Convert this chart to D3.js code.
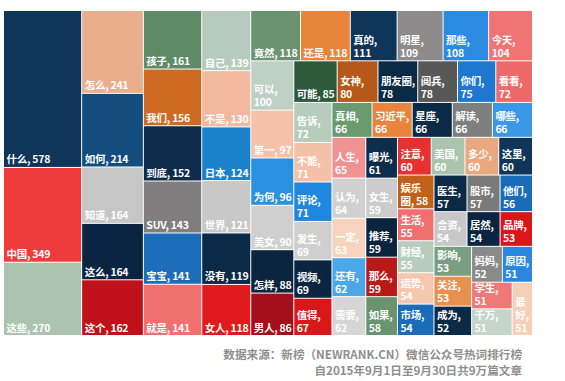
<!DOCTYPE html>
<html>
<head>
<meta charset="utf-8">
<script src="https://cdn.jsdelivr.net/npm/d3@7/dist/d3.min.js"></script>
<style>
  body { margin: 0; background: #fff; }
  svg { display: block; }
  .label { font-family: "Noto Sans CJK SC", "Noto Sans", sans-serif; font-size: 10.5px; font-weight: bold; letter-spacing: -0.25px; fill: #fff; }
  .source { font-family: "Noto Sans CJK SC", sans-serif; font-size: 11.6px; font-weight: bold; fill: #8f8f8f; }
</style>
</head>
<body>
<div id="chart"></div>
<script>

var words = ["什么","中国","这些",
    "怎么","如何","知道","这么","这个",
    "孩子","我们","到底","SUV","宝宝","就是",
    "自己","不是","日本","世界","没有","女人",
    "竟然","还是","真的","明星","那些","今天",
    "可以","第一","为何","美女","怎样","男人",
    "可能","女神","朋友圈","阅兵","你们","看看",
    "告诉","不能","评论","发生","视频","值得",
    "真相","习近平","星座","解读","哪些",
    "人生","认为","一定","还有","需要",
    "曝光","女生","推荐","那么","如果",
    "注意","美国","多少","这里",
    "娱乐圈","生活","财经","运势","市场",
    "医生","股市","他们",
    "合资","居然","品牌",
    "影响","关注","成为",
    "妈妈","原因",
    "学生","千万",
    "最好"];

var counts = [578,349,270,
    241,214,164,164,162,
    161,156,152,143,141,141,
    139,130,124,121,119,118,
    118,118,111,109,108,104,
    100,97,96,90,88,86,
    85,80,78,78,75,72,
    72,71,71,69,69,67,
    66,66,66,66,66,
    65,64,63,62,62,
    61,59,59,59,58,
    60,60,60,60,
    58,55,55,54,54,
    57,57,56,
    54,54,53,
    53,53,52,
    52,51,
    51,51,
    51];

// cell colours, same order as words
var colors = ["#0f3558","#ef3b3b","#aac4b0",
    "#e9ae8c","#124d7e","#c6c6c6","#0b2441","#c0111b",
    "#5e8a66","#cf6a22","#0d2c4c","#807e7e","#1b6cb9","#f06f6f",
    "#b6cbbd","#f2b9a1","#1b81cb","#c8c8c8","#0b2a47","#e11b1b",
    "#6a9470","#e8843c","#0f3559","#8d8b8b","#2b8be0","#f07474",
    "#bdd0c3","#f5c1a9","#2a90e0","#cfcfcf","#0b2540","#a3101a",
    "#2e5a3c","#b5581a","#0b2a46","#595858","#1e78d0","#ee6a6a",
    "#b7ccbd","#f5c0a8","#1e88e0","#cfcfcf","#0b2540","#d81818",
    "#6a9a70","#e8843c","#0b2a46","#7f7f7f","#3a98e8",
    "#f09292","#d0d0d0","#f6d3bc","#4aa8ea","#d6d6d6",
    "#0d2d4d","#cccccc","#0b2540","#b81a1a","#6a9470",
    "#e83030","#aac4b0","#e9a880","#0f3559",
    "#c0601a","#f07070","#b7ccbd","#f5c7af","#1a6bb8",
    "#0b2a46","#7a7a7a","#1a6bb8",
    "#c8c8c8","#0b2540","#d81818",
    "#7a9e80","#e89050","#0b2a46",
    "#8a8a8a","#2a88e0",
    "#f07878","#c5d5ca",
    "#f5d0b8"];

var sourceLines = ["数据来源：新榜（NEWRANK.CN）微信公众号热词排行榜",
    "自2015年9月1日至9月30日共9万篇文章"];

// How Excel cut the area: cells per strip, and strip direction
var stripSizes = [3,5,6,6,6,6,6,6,5,5,5,4,5,3,3,3,2,2,1],
    stripDirs  = ["col","col","col","col","row","col","row","col","row",
                  "col","col","row","col","row","row","col","row","col","col"];

var margin = { top: 11, left: 4 },
    width = 528,
    height = 324;

var svg = d3.select("#chart").append("svg")
    .attr("width", 565)
    .attr("height", 381);

var g = svg.append("g")
    .attr("transform", "translate(" + margin.left + "," + margin.top + ")");

// Build hierarchy: root -> strips -> words
var data = { children: [] }, k = 0;
stripSizes.forEach(function(n, i) {
    var strip = { dir: stripDirs[i], children: [] };
    for (var j = 0; j < n; j++, k++) {
        strip.children.push({ name: words[k], value: counts[k], color: colors[k] });
    }
    data.children.push(strip);
});

function tile(node, x0, y0, x1, y1) {
    if (node.depth === 0) {
        var left = node.value;
        node.children.forEach(function(s) {
            var f = s.value / left;
            if (s.data.dir === "col") {
                s.x0 = x0; s.y0 = y0; s.y1 = y1;
                s.x1 = x0 = x0 + (x1 - x0) * f;
            } else {
                s.x0 = x0; s.x1 = x1; s.y0 = y0;
                s.y1 = y0 = y0 + (y1 - y0) * f;
            }
            left -= s.value;
        });
    } else if (node.data.dir === "col") {
        d3.treemapSlice(node, x0, y0, x1, y1);
    } else {
        d3.treemapDice(node, x0, y0, x1, y1);
    }
}

var root = d3.hierarchy(data).sum(function(d) { return d.value || 0; });

d3.treemap()
    .size([width, height])
    .paddingInner(1)
    .tile(tile)(root);

var leaves = root.leaves();

var cell = g.selectAll("g.cell")
    .data(leaves)
  .enter().append("g")
    .attr("class", "cell");

cell.append("rect")
    .attr("x", function(d) { return d.x0; })
    .attr("y", function(d) { return d.y0; })
    .attr("width", function(d) { return d.x1 - d.x0; })
    .attr("height", function(d) { return d.y1 - d.y0; })
    .attr("fill", function(d) { return d.data.color; });

// Labels, wrapped like Excel does
var probe = g.append("text").attr("class", "label").attr("visibility", "hidden");
function measure(s) {
    probe.text(s);
    return probe.node().getComputedTextLength();
}

function wrap(d) {
    var tokens = d.data.name.match(/[A-Za-z0-9]+|./g);
    tokens[tokens.length - 1] += ",";
    tokens.push(" " + d.data.value);
    var maxW = d.x1 - d.x0 - 2.5,
        lines = [], cur = "";
    tokens.forEach(function(t) {
        if (cur && measure(cur + t) > maxW) {
            lines.push(cur);
            cur = t.trim();
        } else {
            cur += t;
        }
    });
    lines.push(cur);
    return lines;
}

cell.each(function(d) {
    var lines = wrap(d),
        n = lines.length;
    d3.select(this).append("text")
        .attr("class", "label")
        .attr("y", d.y1 - 3.5 - (n - 1) * 13)
      .selectAll("tspan")
        .data(lines)
      .enter().append("tspan")
        .attr("x", d.x0 + 2.5)
        .attr("dy", function(l, i) { return i ? 13 : 0; })
        .text(function(l) { return l; });
});
probe.remove();

// Source note
svg.selectAll("text.source")
    .data(sourceLines)
  .enter().append("text")
    .attr("class", "source")
    .attr("x", 522)
    .attr("y", function(d, i) { return 359 + i * 16; })
    .attr("text-anchor", "end")
    .text(function(d) { return d; });

</script>
</body>
</html>
